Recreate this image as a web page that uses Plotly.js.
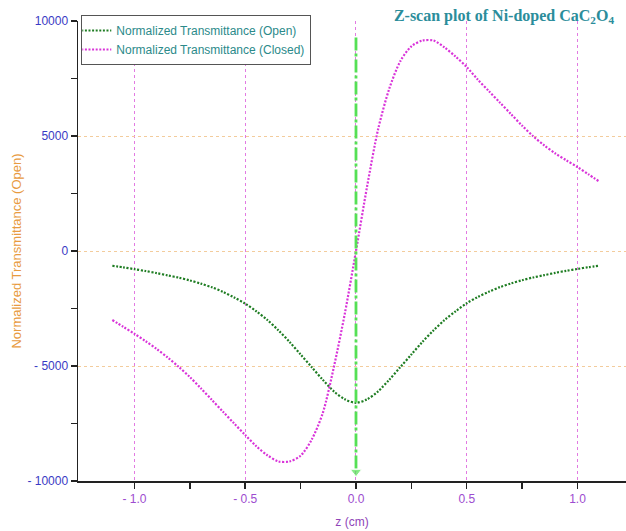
<!DOCTYPE html>
<html>
<head>
<meta charset="utf-8">
<script src="https://cdn.plot.ly/plotly-3.0.1.min.js"></script>
<style>
  html, body { margin: 0; padding: 0; background: #ffffff; }
  #chart { width: 626px; height: 531px; }
</style>
</head>
<body>
<div id="chart"></div>
<script>
// Sample positions along the beam axis (cm)
const zPos = [-1.1, -1.05, -1.0, -0.95, -0.9, -0.85, -0.8, -0.75, -0.7, -0.65, -0.6, -0.55,
              -0.5, -0.45, -0.4, -0.35, -0.3, -0.25, -0.2, -0.15, -0.1, -0.05, 0,
              0.05, 0.1, 0.15, 0.2, 0.25, 0.3, 0.35, 0.4, 0.45, 0.5, 0.55,
              0.6, 0.65, 0.7, 0.75, 0.8, 0.85, 0.9, 0.95, 1.0, 1.05, 1.1];

// Open-aperture normalized transmittance
const openT = [-640, -710, -790, -870, -960, -1060, -1160, -1280, -1420, -1580, -1780, -2020,
               -2290, -2620, -3000, -3450, -3950, -4500, -5050, -5600, -6100, -6450, -6600,
               -6450, -6100, -5600, -5050, -4500, -3950, -3450, -3000, -2620, -2270, -2000,
               -1770, -1570, -1410, -1270, -1150, -1050, -950, -860, -780, -700, -640];

// Closed-aperture normalized transmittance
const closedT = [-3000, -3300, -3600, -3920, -4260, -4630, -5040, -5480, -5970, -6480, -6990, -7500,
                 -8000, -8490, -8880, -9150, -9150, -8900, -8200, -7050, -5050, -2700, 0,
                 2800, 5300, 7050, 8250, 8900, 9150, 9150, 8850, 8450, 8000, 7450,
                 6950, 6450, 5950, 5450, 4990, 4590, 4240, 3940, 3650, 3330, 3010];

// Focal-point marker (z = 0), arrow pointing downwards
const focusZ = [0, 0];
const focusT = [9280, -9600];

// Axis ticks
const yTickVals = [-10000, -5000, 0, 5000, 10000];
const yTickText = ['- 10000', '- 5000', '0', '5000', '10000'];
const yMinorVals = [-7500, -2500, 2500, 7500];
const xTickVals = [-1.0, -0.5, 0.0, 0.5, 1.0];
const xTickText = ['- 1.0', '- 0.5', '0.0', '0.5', '1.0'];
const xMinorVals = [-0.75, -0.25, 0.25, 0.75];

const traces = [
  {
    x: zPos, y: openT, type: 'scatter', mode: 'lines',
    name: 'Normalized Transmittance (Open)',
    line: { color: '#1f7d23', width: 2.2, dash: '2px,1.6px', shape: 'spline', smoothing: 0.8 }
  },
  {
    x: zPos, y: closedT, type: 'scatter', mode: 'lines',
    name: 'Normalized Transmittance (Closed)',
    line: { color: '#d934d9', width: 2.2, dash: '2px,1.6px', shape: 'spline', smoothing: 0.8 }
  },
  {
    x: focusZ, y: focusT, type: 'scatter', mode: 'lines+markers',
    showlegend: false, hoverinfo: 'skip',
    line: { color: '#55e055', width: 2.8, dash: '13px,3px,3px,3px' },
    marker: { symbol: 'triangle-down', size: [0, 10], color: '#55e055' }
  }
];

const layout = {
  width: 626, height: 531,
  margin: { l: 78, r: 0, t: 21, b: 50 },
  paper_bgcolor: '#ffffff', plot_bgcolor: '#ffffff',
  font: { family: 'Arial, Liberation Sans, sans-serif', size: 12 },
  title: {
    text: '<b>Z-scan plot of Ni-doped CaC<sub>2</sub>O<sub>4</sub></b>',
    font: { family: 'Liberation Serif, Times New Roman, serif', size: 16, color: '#2b8d9b' },
    x: 0.805, xref: 'container', xanchor: 'center',
    y: 0.971, yref: 'container', yanchor: 'middle'
  },
  xaxis: {
    range: [-1.255, 1.219],
    tickmode: 'array', tickvals: xTickVals, ticktext: xTickText,
    ticks: 'outside', ticklen: 6, tickwidth: 1.5, tickcolor: '#222',
    showline: true, linecolor: '#222', linewidth: 1.5,
    showgrid: true, gridcolor: '#e27ae2', gridwidth: 1, griddash: 'dot',
    zeroline: false,
    tickfont: { color: '#9d4ccf', size: 12 },
    minor: { tickmode: 'array', tickvals: xMinorVals, ticks: 'outside', ticklen: 6,
             tickwidth: 1.5, tickcolor: '#222', showgrid: false },
    title: { text: 'z (cm)', font: { color: '#9044b8', size: 12 }, standoff: 12 }
  },
  yaxis: {
    range: [-10000, 10000],
    tickmode: 'array', tickvals: yTickVals, ticktext: yTickText,
    ticks: 'outside', ticklen: 6, tickwidth: 1.5, tickcolor: '#222',
    showline: true, linecolor: '#222', linewidth: 1.5,
    showgrid: true, gridcolor: '#f3cc9c', gridwidth: 1, griddash: 'dot',
    zeroline: false,
    tickfont: { color: '#3a3ac4', size: 12 },
    minor: { tickmode: 'array', tickvals: yMinorVals, ticks: 'outside', ticklen: 6,
             tickwidth: 1.5, tickcolor: '#222', showgrid: false },
    title: { text: 'Normalized Transmittance (Open)', font: { color: '#e89b3f', size: 13 }, standoff: 3 }
  },
  legend: {
    x: 0.006, xanchor: 'left', y: 1.013, yanchor: 'top',
    bgcolor: '#ffffff', bordercolor: '#555', borderwidth: 1,
    font: { color: '#2b8a8a', size: 12 },
    tracegroupgap: 0, itemwidth: 30, indentation: -6
  },
  showlegend: true
};

Plotly.newPlot('chart', traces, layout, { displayModeBar: false, staticPlot: true });
</script>
</body>
</html>
